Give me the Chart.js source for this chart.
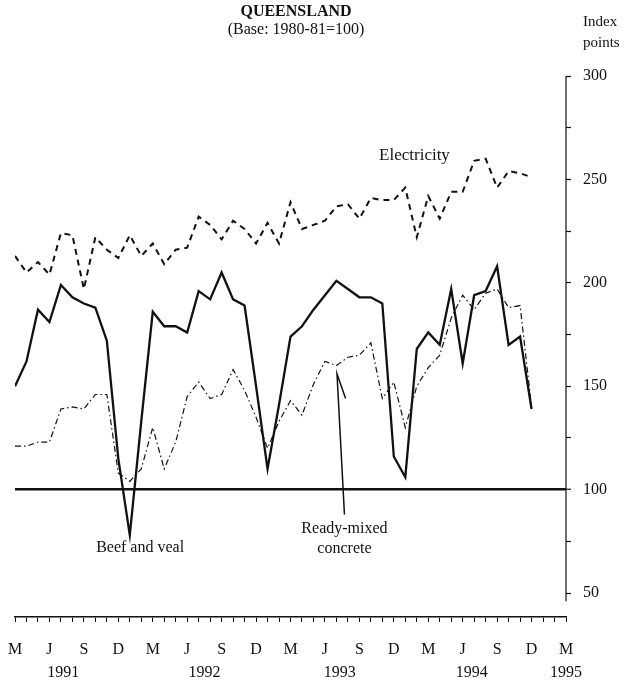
<!DOCTYPE html>
<html><head><meta charset="utf-8">
<script src="https://cdn.jsdelivr.net/npm/chart.js@4/dist/chart.umd.min.js"></script>
<style>html,body{margin:0;padding:0;background:#fff}#wrap{width:635px;height:686px}</style>
</head><body><div id="wrap"><canvas id="c" width="635" height="686"></canvas></div>
<script>
// Months: Mar 1991 .. Dec 1994
const periods = ['Mar-91','Apr-91','May-91','Jun-91','Jul-91','Aug-91','Sep-91','Oct-91','Nov-91','Dec-91',
 'Jan-92','Feb-92','Mar-92','Apr-92','May-92','Jun-92','Jul-92','Aug-92','Sep-92','Oct-92','Nov-92','Dec-92',
 'Jan-93','Feb-93','Mar-93','Apr-93','May-93','Jun-93','Jul-93','Aug-93','Sep-93','Oct-93','Nov-93','Dec-93',
 'Jan-94','Feb-94','Mar-94','Apr-94','May-94','Jun-94','Jul-94','Aug-94','Sep-94','Oct-94','Nov-94','Dec-94'];
const electricity = [213,205,210,204,224,223,197,222,216,212,223,213,219,209,216,217,232,228,221,230,226,219,229,219,
 239,226,228,230,237,238,231,241,240,240,246,222,242,231,244,244,259,260,246,254,253,251];
const beefAndVeal = [150,162,187,181,199,193,190,188,172,115,78,133,186,179,179,176,196,192,205,192,189,150,110,141,
 174,179,187,194,201,197,193,193,190,116,106,168,176,170,197,161,194,196,208,170,174,139];
const readyMixedConcrete = [121,121,123,123,139,140,139,146,146,108,104,110,130,110,123,145,152,144,146,158,148,135,120,133,
 143,136,151,162,160,164,165,171,144,152,130,150,159,165,183,194,187,195,197,188,189,140];
const quarterLabels = ['M','J','S','D'];
const years = ['1991','1992','1993','1994','1995'];
const yearTickMonths = [4.2,16.5,28.3,39.8,48];
const yTicks = [50,75,100,125,150,175,200,225,250,275,300];

const ink = '#111';
const serif = 'Liberation Serif';

const annot = {
  id: 'annot',
  afterDraw(chart) {
    const c = chart.ctx, xs = chart.scales.x, ys = chart.scales.y;
    const X = v => xs.getPixelForValue(v), Y = v => ys.getPixelForValue(v);
    c.save();
    c.fillStyle = ink; c.strokeStyle = ink;
    c.textBaseline = 'middle';
    c.textAlign = 'center';
    c.font = 'bold 16px "' + serif + '"';
    c.fillText('QUEENSLAND', 296, 12);
    c.font = '16px "' + serif + '"';
    c.fillText('(Base: 1980-81=100)', 296, 30);
    c.textAlign = 'left';
    c.font = '15px "' + serif + '"';
    c.fillText('Index', 583, 22);
    c.fillText('points', 583, 43);
    // right axis line
    c.lineWidth = 1.2;
    c.beginPath();
    c.moveTo(chart.chartArea.right, Y(300));
    c.lineTo(chart.chartArea.right, Y(46));
    c.stroke();
    // labels
    c.textAlign = 'center';
    c.font = '17px "' + serif + '"';
    c.fillText('Electricity', X(34.8), Y(261.5));
    c.font = '16px "' + serif + '"';
    c.fillText('Ready-mixed', X(28.7), Y(81));
    c.fillText('concrete', X(28.7), Y(71.5));
    c.fillText('Beef and veal', X(10.9), Y(72));
    // pointer for concrete
    c.lineWidth = 1.5;
    c.beginPath();
    c.moveTo(X(28.7), Y(88));
    c.lineTo(X(28.05), Y(156));
    c.lineTo(X(28.8), Y(144));
    c.stroke();
    c.restore();
  }
};

const toXY = arr => arr.map((v, i) => ({x: i, y: v}));
const noPad = s => { s.paddingLeft = 0; s.paddingRight = 0; };

new Chart(document.getElementById('c'), {
  type: 'line',
  data: {
    labels: periods,
    datasets: [
      {label: 'Electricity', data: toXY(electricity), borderColor: ink, borderWidth: 2, borderDash: [6, 5], pointRadius: 0, tension: 0, fill: false},
      {label: 'Beef and veal', data: toXY(beefAndVeal), borderColor: ink, borderWidth: 2.3, pointRadius: 0, tension: 0, fill: false},
      {label: 'Ready-mixed concrete', data: toXY(readyMixedConcrete), borderColor: ink, borderWidth: 1.2, borderDash: [6, 3, 1.5, 3], pointRadius: 0, tension: 0, fill: false}
    ]
  },
  options: {
    responsive: false,
    animation: false,
    layout: {padding: {top: 76, left: 15, right: 0, bottom: 0}},
    plugins: {legend: {display: false}, tooltip: {enabled: false}, title: {display: false}},
    scales: {
      x: {
        type: 'linear', min: 0, max: 48, position: 'bottom',
        afterBuildTicks: s => { s.ticks = Array.from({length: 49}, (_, i) => ({value: i})); },
        afterFit: s => { s.height = 42; noPad(s); },
        grid: {display: true, drawOnChartArea: false, tickLength: 5, color: ink, lineWidth: 1},
        border: {display: true, color: ink, width: 1.5},
        ticks: {autoSkip: false, maxRotation: 0, padding: 18, color: ink, font: {family: serif, size: 16},
          callback: v => (v % 3 === 0 ? quarterLabels[(v / 3) % 4] : '')}
      },
      x2: {
        type: 'linear', min: 0, max: 48, position: 'bottom',
        afterBuildTicks: s => { s.ticks = yearTickMonths.map(v => ({value: v})); },
        afterFit: s => { s.height = 27; noPad(s); },
        grid: {display: false}, border: {display: false},
        ticks: {autoSkip: false, maxRotation: 0, padding: -4, color: ink, font: {family: serif, size: 16},
          callback: (v, i) => years[i]}
      },
      y: {
        type: 'linear', position: 'right', min: 38.4, max: 300,
        afterBuildTicks: s => { s.ticks = yTicks.map(v => ({value: v})); },
        afterFit: s => { s.width = 69; },
        grid: {drawOnChartArea: true, tickLength: 5, tickColor: ink, tickWidth: 1.2,
          color: c => (c.tick && c.tick.value === 100 ? ink : 'rgba(0,0,0,0)'),
          lineWidth: c => (c.tick && c.tick.value === 100 ? 2.5 : 1)},
        border: {display: false},
        ticks: {padding: 12, color: ink, font: {family: serif, size: 16},
          callback: v => (v % 50 === 0 ? String(v) : '')}
      }
    }
  },
  plugins: [annot]
});
</script>
</body></html>
